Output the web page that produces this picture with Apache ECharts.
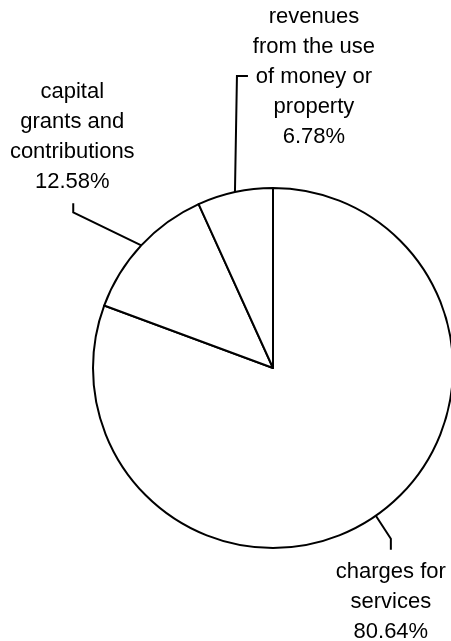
<!DOCTYPE html>
<html>
<head>
<meta charset="utf-8">
<script src="https://cdn.jsdelivr.net/npm/echarts@6/dist/echarts.min.js"></script>
<style>
html,body{margin:0;padding:0;background:#fff;}
#chart{width:451px;height:641px;}
</style>
</head>
<body>
<div id="chart"></div>
<script>
var categories = ["charges for\nservices", "capital\ngrants and\ncontributions", "revenues\nfrom the use\nof money or\nproperty"];
var values = [80.64, 12.58, 6.78];

var CX = 273, CY = 368, R = 180;
// leader-line bends (relative offsets from the slice edge point) and label anchors
var bend1 = [[15, 23], [-68, -33], [2, -116]];
var bend2 = [[0, 11], [0, -9], [11, 0]];
var labelOff = [[0, 7, 'center', 'top'], [-1, -6, 'center', 'bottom'], [66, 1, 'center', 'middle']];

var total = values.reduce(function (a, b) { return a + b; }, 0);
var mids = [];
var acc = 0;
values.forEach(function (v) {
  mids.push((acc + v / 2) / total * 2 * Math.PI);
  acc += v;
});

var chart = echarts.init(document.getElementById('chart'));
chart.setOption({
  animation: false,
  series: [{
    type: 'pie',
    center: [CX, CY],
    radius: [0, R],
    startAngle: 90,
    clockwise: true,
    silent: true,
    avoidLabelOverlap: false,
    emphasis: { disabled: true },
    itemStyle: { color: '#ffffff', borderColor: '#000000', borderWidth: 2 },
    label: {
      show: true,
      position: 'outside',
      overflow: 'none',
      width: 200,
      fontFamily: 'Liberation Sans, Arial, sans-serif',
      fontSize: 22,
      lineHeight: 30,
      color: '#000000',
      formatter: function (p) { return p.name + '\n' + p.value.toFixed(2) + '%'; }
    },
    labelLine: { show: true, lineStyle: { color: '#000000', width: 2 } },
    labelLayout: function (params) {
      var i = params.dataIndex;
      var a = mids[i];
      var p0 = [CX + R * Math.sin(a), CY - R * Math.cos(a)];
      var p1 = [p0[0] + bend1[i][0], p0[1] + bend1[i][1]];
      var p2 = [p1[0] + bend2[i][0], p1[1] + bend2[i][1]];
      return {
        x: p2[0] + labelOff[i][0],
        y: p2[1] + labelOff[i][1],
        align: labelOff[i][2],
        verticalAlign: labelOff[i][3],
        labelLinePoints: [p0, p1, p2]
      };
    },
    data: categories.map(function (c, i) { return { name: c, value: values[i] }; })
  }]
});
</script>
</body>
</html>
